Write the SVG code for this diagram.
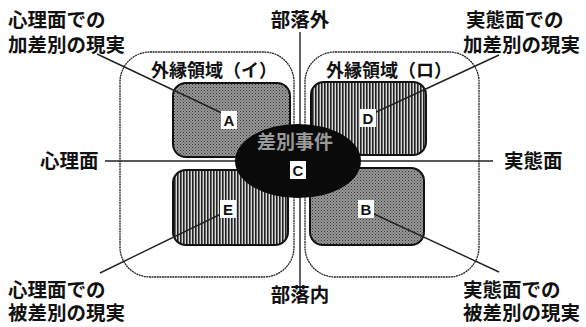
<svg xmlns="http://www.w3.org/2000/svg" width="586" height="327" viewBox="0 0 586 327">
<defs>
<pattern id="stipple" width="3" height="3" patternUnits="userSpaceOnUse">
<rect width="3" height="3" fill="#9a9a9a"/>
<rect x="0" y="0" width="1" height="1" fill="#333"/>
<rect x="1.5" y="1.5" width="1" height="1" fill="#444"/>
</pattern>
<pattern id="stripes" width="3" height="3" patternUnits="userSpaceOnUse">
<rect width="3" height="3" fill="#d8d8d8"/>
<rect x="0" y="0" width="1.6" height="3" fill="#222"/>
</pattern>
<style>
.jp{font-family:"Noto Sans CJK JP","Noto Sans CJK SC",sans-serif;font-weight:bold;fill:#111}
.lbl{font-size:19.5px}
.reg{font-size:18px}
.outer{fill:none;stroke:#222;stroke-width:1.3;stroke-dasharray:2 0.6}
.inner{stroke:#111;stroke-width:2}
.line{stroke:#222;stroke-width:1.4;fill:none}
.tag{fill:#fff}
.tagt{font-family:"Liberation Sans",Arial,sans-serif;font-weight:bold;font-size:15px;fill:#111;text-anchor:middle}
</style>
</defs>

<g id="connectors">
<line class="line" x1="300" y1="32" x2="300" y2="290"/>
<line class="line" x1="105" y1="161" x2="493" y2="161"/>
</g>

<g id="region-i">
<rect class="outer" x="120" y="52" width="174" height="225" rx="30"/>
<text class="jp reg" x="214" y="77" text-anchor="middle">外縁領域（イ）</text>
</g>
<g id="region-ro">
<rect class="outer" x="305" y="52" width="174" height="225" rx="30"/>
<text class="jp reg" x="389" y="77" text-anchor="middle">外縁領域（ロ）</text>
</g>

<g id="node-A">
<rect class="inner" x="173" y="83" width="117" height="74" rx="13" fill="url(#stipple)"/>
</g>
<g id="node-D">
<rect class="inner" x="311" y="82" width="115" height="73" rx="13" fill="url(#stripes)"/>
</g>
<g id="node-E">
<rect class="inner" x="173" y="170" width="115" height="75" rx="13" fill="url(#stripes)"/>
</g>
<g id="node-B">
<rect class="inner" x="310" y="168" width="114" height="77" rx="13" fill="url(#stipple)"/>
</g>

<g id="leaders">
<line class="line" x1="97" y1="54" x2="224" y2="114"/>
<line class="line" x1="499" y1="55" x2="374" y2="113"/>
<line class="line" x1="100" y1="273" x2="223" y2="213"/>
<line class="line" x1="374" y1="214" x2="499" y2="272"/>
</g>

<g id="node-C">
<ellipse cx="298" cy="161" rx="63" ry="37" fill="#0a0a0a"/>
<text class="jp" x="295" y="149" font-size="19" text-anchor="middle" style="fill:#9a9a9a">差別事件</text>
</g>

<g id="tags">
<rect class="tag" x="221" y="111" width="16" height="18"/>
<text class="tagt" x="229" y="126">A</text>
<rect class="tag" x="360" y="109" width="16" height="18"/>
<text class="tagt" x="368" y="124">D</text>
<rect class="tag" x="290" y="161" width="16" height="18"/>
<text class="tagt" x="298" y="176">C</text>
<rect class="tag" x="220" y="200" width="16" height="18"/>
<text class="tagt" x="228" y="215">E</text>
<rect class="tag" x="358" y="200" width="16" height="18"/>
<text class="tagt" x="366" y="215">B</text>
</g>

<g id="labels">
<text class="jp lbl" x="8" y="27"><tspan x="8">心理面での</tspan><tspan x="8" dy="25">加差別の現実</tspan></text>
<text class="jp lbl" x="300" y="27" text-anchor="middle">部落外</text>
<text class="jp lbl" x="466" y="27"><tspan x="466">実態面での</tspan><tspan x="463" dy="25">加差別の現実</tspan></text>
<text class="jp lbl" x="40" y="168">心理面</text>
<text class="jp lbl" x="504" y="168">実態面</text>
<text class="jp lbl" x="8" y="297"><tspan x="8">心理面での</tspan><tspan x="8" dy="23">被差別の現実</tspan></text>
<text class="jp lbl" x="300" y="302" text-anchor="middle">部落内</text>
<text class="jp lbl" x="463" y="297"><tspan x="463">実態面での</tspan><tspan x="463" dy="23">被差別の現実</tspan></text>
</g>
</svg>
